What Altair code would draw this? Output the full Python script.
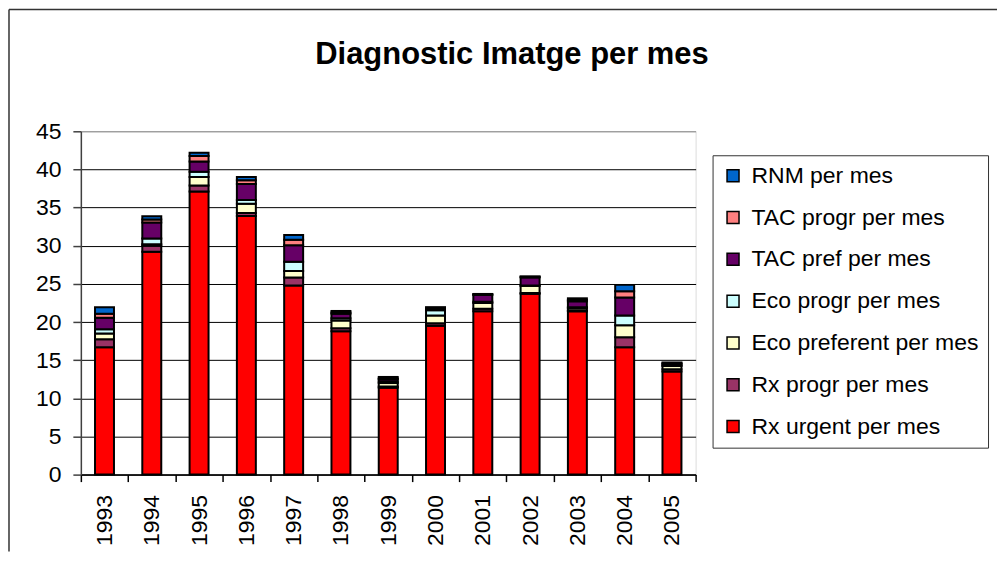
import altair as alt
import pandas as pd

years = ["1993", "1994", "1995", "1996", "1997", "1998", "1999",
         "2000", "2001", "2002", "2003", "2004", "2005"]

# stack order from bottom to top
series = ["Rx urgent per mes", "Rx progr per mes", "Eco preferent per mes",
          "Eco progr per mes", "TAC pref per mes", "TAC progr per mes", "RNM per mes"]
colors = ["#FF0000", "#993366", "#FFFFCC", "#CCFFFF", "#660066", "#FF8080", "#0066CC"]

rx_urgent = [16.7, 29.2, 37.1, 33.9, 24.8, 18.8, 11.4, 19.5, 21.4, 23.7, 21.4, 16.7, 13.5]
rx_progr = [1.05, 0.8, 0.8, 0.4, 1.05, 0.4, 0.15, 0.35, 0.33, 0.1, 0.1, 1.3, 0.3]
eco_pref = [0.75, 0.2, 1.1, 1.2, 0.85, 1.0, 0.45, 1.0, 0.77, 0.94, 0.3, 1.57, 0.45]
eco_progr = [0.55, 0.75, 0.7, 0.5, 1.2, 0.3, 0.2, 0.7, 0.17, 0.05, 0.15, 1.3, 0.05]
tac_pref = [1.5, 2.1, 1.35, 2.1, 2.15, 0.6, 0.3, 0.15, 0.88, 1.06, 0.76, 2.35, 0.2]
tac_progr = [0.55, 0.4, 0.7, 0.5, 0.75, 0.15, 0.1, 0.1, 0.08, 0.08, 0.2, 0.8, 0.1]
rnm = [0.85, 0.4, 0.45, 0.4, 0.6, 0.2, 0.2, 0.15, 0.05, 0.05, 0.2, 0.85, 0.1]

y_ticks = [0, 5, 10, 15, 20, 25, 30, 35, 40, 45]
title_text = "Diagnostic Imatge per mes"

values = [rx_urgent, rx_progr, eco_pref, eco_progr, tac_pref, tac_progr, rnm]
rows = []
for si, (name, vals) in enumerate(zip(series, values)):
    for yr, v in zip(years, vals):
        rows.append({"year": yr, "serie": name, "value": v, "ord": si})
df = pd.DataFrame(rows)

legend_order = list(reversed(series))
legend_colors = list(reversed(colors))

FONT = "Liberation Sans"

bars = alt.Chart(df).mark_bar(size=19, stroke="black", strokeWidth=2).encode(
    x=alt.X("year:N", sort=years, title=None,
            scale=alt.Scale(paddingInner=0, paddingOuter=0),
            axis=alt.Axis(labelAngle=270, labelFontSize=23, labelFont=FONT,
                          labelColor="black", tickBand="extent", tickSize=7,
                          tickColor="black", tickWidth=1.5, domainColor="black",
                          domainWidth=1.5, labelPadding=13, grid=False)),
    y=alt.Y("value:Q", stack="zero", title=None,
            scale=alt.Scale(domain=[0, 45], nice=False),
            axis=alt.Axis(values=y_ticks, labelFontSize=23, labelFont=FONT,
                          labelColor="black", tickSize=8, tickColor="#404040",
                          tickWidth=1.5, domainColor="#404040", domainWidth=1.5,
                          labelPadding=12, grid=True,
                          gridColor=alt.condition("datum.value == 45",
                                                  alt.value("#808080"),
                                                  alt.value("black")),
                          gridWidth=1)),
    color=alt.Color("serie:N", scale=alt.Scale(domain=legend_order, range=legend_colors),
                    legend=alt.Legend(title=None, orient="none", legendX=633, legendY=24,
                                      direction="vertical", symbolType="square",
                                      symbolSize=144, symbolStrokeColor="black",
                                      symbolStrokeWidth=1.5, labelFontSize=23,
                                      labelFont=FONT, labelColor="black",
                                      labelOffset=7, rowPadding=17.9, padding=9,
                                      strokeColor="#333333", fillColor="white",
                                      labelLimit=400)),
    order=alt.Order("ord:Q", sort="ascending"),
)

frame_df = pd.DataFrame({"f": [0]})
frame_left = alt.Chart(frame_df).mark_rule(color="#333333", strokeWidth=1.5).encode(
    x=alt.value(-72), y=alt.value(-122), y2=alt.value(421))
frame_top = alt.Chart(frame_df).mark_rule(color="#333333", strokeWidth=1.5).encode(
    x=alt.value(-72), x2=alt.value(918), y=alt.value(-122))

chart = alt.layer(bars, frame_left, frame_top).properties(
    width=616, height=344, padding=0,
    title=alt.TitleParams(title_text, fontSize=31, font=FONT, fontWeight="bold",
                          color="black", anchor="middle", frame="group",
                          dx=124, offset=-62),
).configure_view(fill="#C0C0C0", stroke="#808080", strokeWidth=2
).configure(background="white")

chart.save("out.html", embed_options={"renderer": "svg", "actions": False})
